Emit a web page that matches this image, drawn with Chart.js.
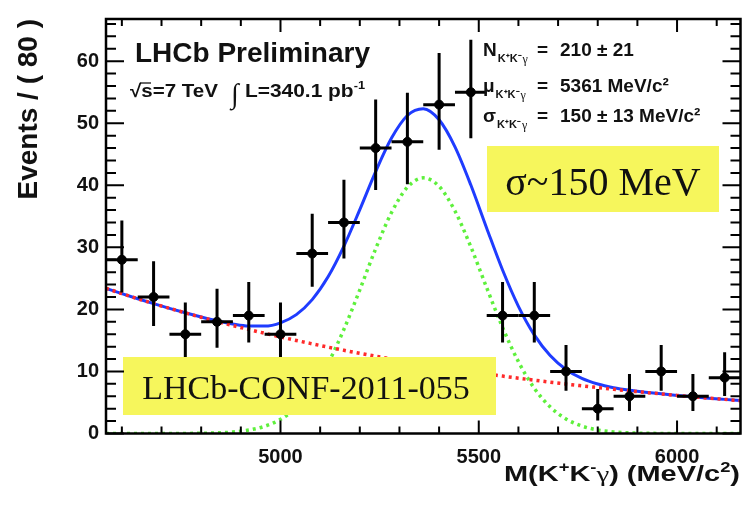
<!DOCTYPE html>
<html>
<head>
<meta charset="utf-8">
<script src="https://cdn.jsdelivr.net/npm/chart.js@4.4.0/dist/chart.umd.min.js"></script>
<style>
  html, body { margin: 0; padding: 0; background: #fff; }
  #wrap { width: 750px; height: 505px; }
</style>
</head>
<body>
<div id="wrap"><canvas id="massChart" width="750" height="505"></canvas></div>
<script>
/* ── Data: 80 MeV bins, counts with asymmetric Poisson errors ── */

const binCentres = [4600, 4680, 4760, 4840, 4920, 5000, 5080, 5160, 5240, 5320,
                    5400, 5480, 5560, 5640, 5720, 5800, 5880, 5960, 6040, 6120];
const counts     = [28, 22, 16, 18, 19, 16, 29, 34, 46, 47,
                    53, 55, 19, 19, 10, 4, 6, 10, 6, 9];
const errLow     = [5.26, 4.66, 3.96, 4.20, 4.32, 3.96, 5.36, 5.80, 6.76, 6.84,
                    7.27, 7.41, 4.32, 4.32, 3.11, 1.91, 2.38, 3.11, 2.38, 2.94];
const errHigh    = [6.34, 5.76, 5.10, 5.32, 5.43, 5.10, 6.43, 6.88, 7.84, 7.91,
                    8.33, 8.47, 5.43, 5.43, 4.26, 3.16, 3.58, 4.26, 3.58, 4.11];
const binHalfWidth = 40;

// fit curves, read every 40 MeV
const curveX   = [4560, 4600, 4640, 4680, 4720, 4760, 4800, 4840, 4880, 4920,
                  4960, 5000, 5040, 5080, 5120, 5160, 5200, 5240, 5280, 5320,
                  5360, 5400, 5440, 5480, 5520, 5560, 5600, 5640, 5680, 5720,
                  5760, 5800, 5840, 5880, 5920, 5960, 6000, 6040, 6080, 6120, 6160];
const totalFit = [23.40, 22.55, 21.72, 20.93, 20.17, 19.45, 18.77, 18.15, 17.63, 17.31,
                  17.31, 17.84, 19.16, 21.58, 25.25, 30.20, 36.08, 42.21, 47.61, 51.25,
                  52.34, 50.56, 46.20, 40.04, 33.09, 26.34, 20.49, 15.89, 12.56, 10.32,
                  8.88, 7.97, 7.38, 6.97, 6.66, 6.39, 6.14, 5.92, 5.70, 5.50, 5.30];
const bkgFit   = [23.40, 22.55, 21.72, 20.93, 20.17, 19.44, 18.73, 18.05, 17.39, 16.76,
                  16.15, 15.56, 14.99, 14.45, 13.92, 13.41, 12.92, 12.45, 12.00, 11.56,
                  11.14, 10.73, 10.34, 9.96, 9.60, 9.25, 8.91, 8.59, 8.27, 7.97,
                  7.68, 7.40, 7.13, 6.87, 6.62, 6.38, 6.14, 5.92, 5.70, 5.50, 5.30];
const sigFit   = [0.00, 0.00, 0.00, 0.00, 0.00, 0.01, 0.04, 0.10, 0.24, 0.55,
                  1.16, 2.28, 4.17, 7.13, 11.33, 16.79, 23.16, 29.76, 35.61, 39.69,
                  41.20, 39.83, 35.86, 30.08, 23.49, 17.09, 11.58, 7.30, 4.29, 2.35,
                  1.20, 0.57, 0.25, 0.10, 0.04, 0.01, 0.00, 0.00, 0.00, 0.00, 0.00];

const xTicks = [5000, 5500, 6000];
const yTicks = [0, 10, 20, 30, 40, 50, 60];

const fitRows = [
    { sym: 'N', val: '210 ± 21',        y: 56  },
    { sym: 'μ', val: '5361 MeV/c²',     y: 92  },
    { sym: 'σ', val: '150 ± 13 MeV/c²', y: 122 },
];

/* ── Drawing helpers ── */

const SANS  = `'Liberation Sans', Arial, Helvetica, sans-serif`;
const SERIF = `'Liberation Serif', 'Times New Roman', serif`;

const toXY = (xs, ys) => xs.map((v, i) => ({ x: v, y: ys[i] }));

// pieces: [text, font, dy]; drawn right-aligned at (right, base), squeezed/stretched to width
function drawRich(ctx, pieces, right, base, width) {
    let total = 0;
    pieces.forEach(p => { ctx.font = p[1]; total += ctx.measureText(p[0]).width; });
    const sx = width / total;
    ctx.save();
    ctx.translate(right - width, base);
    ctx.scale(sx, 1);
    let cx = 0;
    pieces.forEach(p => {
        ctx.font = p[1];
        ctx.fillText(p[0], cx, p[2]);
        cx += ctx.measureText(p[0]).width;
    });
    ctx.restore();
}

const errorBarsPlugin = {
    id: 'errorBars',
    afterDatasetsDraw(chart) {
        const { ctx, scales: { x, y } } = chart;
        ctx.save();
        ctx.strokeStyle = '#000';
        ctx.lineWidth   = 3;
        binCentres.forEach((c, i) => {
            const px = x.getPixelForValue(c);
            const py = y.getPixelForValue(counts[i]);
            ctx.beginPath();
            ctx.moveTo(x.getPixelForValue(c - binHalfWidth), py);
            ctx.lineTo(x.getPixelForValue(c + binHalfWidth), py);
            ctx.moveTo(px, y.getPixelForValue(counts[i] - errLow[i]));
            ctx.lineTo(px, y.getPixelForValue(counts[i] + errHigh[i]));
            ctx.stroke();
        });
        ctx.restore();
    }
};

const decorPlugin = {
    id: 'decor',
    afterDraw(chart) {
        const { ctx, chartArea: a, scales: { x, y } } = chart;
        ctx.save();

        // yellow note boxes
        ctx.fillStyle = '#f6f65c';
        ctx.fillRect(487, 146, 232, 66);
        ctx.fillRect(123, 357, 373, 58);
        ctx.fillStyle    = '#111';
        ctx.textAlign    = 'center';
        ctx.textBaseline = 'alphabetic';
        ctx.font = `40px ${SERIF}`;
        ctx.fillText('σ~150 MeV', 603, 195);
        ctx.font = `34px ${SERIF}`;
        ctx.fillText('LHCb-CONF-2011-055', 306, 399);

        // frame + inner ticks
        ctx.strokeStyle = '#000';
        ctx.lineWidth   = 2;
        ctx.beginPath();
        for (let v = 0; v <= y.max; v += 2) {
            const py  = y.getPixelForValue(v);
            const len = v % 10 === 0 ? 18 : 10;
            ctx.moveTo(a.left, py);  ctx.lineTo(a.left + len, py);
            ctx.moveTo(a.right, py); ctx.lineTo(a.right - len, py);
        }
        for (let v = 4600; v <= x.max; v += 100) {
            const px  = x.getPixelForValue(v);
            const len = v % 500 === 0 ? 13 : 7;
            ctx.moveTo(px, a.bottom); ctx.lineTo(px, a.bottom - len);
            ctx.moveTo(px, a.top);    ctx.lineTo(px, a.top + len);
        }
        ctx.stroke();
        ctx.lineWidth = 2.5;
        ctx.strokeRect(a.left, a.top, a.right - a.left, a.bottom - a.top);

        // labels
        ctx.fillStyle = '#111';
        ctx.textAlign = 'left';
        ctx.font = `bold 28px ${SANS}`;
        ctx.fillText('LHCb Preliminary', 135, 62);

        drawRich(ctx, [
            ['√', `bold 18px ${SANS}`, 0],
            ['s=7 TeV', `bold 18px ${SANS}`, 0],
        ], 218, 97, 88);
        ctx.lineWidth = 1.2;
        ctx.beginPath();
        ctx.moveTo(140, 83);
        ctx.lineTo(151, 83);
        ctx.stroke();
        ctx.font = `28px ${SERIF}`;
        ctx.fillText('∫', 231, 103);
        drawRich(ctx, [
            ['L=340.1 pb', `bold 18px ${SANS}`, 0],
            ['-1', `bold 11px ${SANS}`, -8],
        ], 365, 97, 120);

        fitRows.forEach(r => {
            ctx.font = `bold 19px ${SANS}`;
            ctx.fillText(r.sym, 483, r.y);
            const symW = ctx.measureText(r.sym).width;
            ctx.font = `bold 11px ${SANS}`;
            ctx.fillText('K⁺K⁻', 484 + symW, r.y + 6);
            const kw = ctx.measureText('K⁺K⁻').width;
            ctx.font = `12px ${SERIF}`;
            ctx.fillText('γ', 485 + symW + kw, r.y + 7);
            ctx.font = `bold 19px ${SANS}`;
            ctx.fillText('=', 537, r.y);
            ctx.fillText(r.val, 560, r.y);
        });

        // x-axis title, right aligned to the frame
        const tf = `bold 22px ${SANS}`, sf = `bold 14px ${SANS}`;
        drawRich(ctx, [
            ['M(K', tf, 0], ['+', sf, -9], ['K', tf, 0], ['-', sf, -9],
            ['γ', `22px ${SERIF}`, 0], [') (MeV/c', tf, 0], ['2', sf, -9], [')', tf, 0],
        ], 740, 481, 236);

        ctx.restore();
    }
};

/* ── Chart ── */

new Chart(document.getElementById('massChart').getContext('2d'), {
    type: 'scatter',
    plugins: [errorBarsPlugin, decorPlugin],
    data: {
        datasets: [
            {
                label:           'Data',
                data:            toXY(binCentres, counts),
                pointRadius:     4.5,
                pointBackgroundColor: '#000',
                pointBorderColor:     '#000',
                showLine:        false,
            },
            {
                label:           'Background',
                data:            toXY(curveX, bkgFit),
                showLine:        true,
                pointRadius:     0,
                borderColor:     '#ff2a2a',
                borderWidth:     3.5,
                borderDash:      [3, 4],
                cubicInterpolationMode: 'monotone',
            },
            {
                label:           'Signal',
                data:            toXY(curveX, sigFit),
                showLine:        true,
                pointRadius:     0,
                borderColor:     '#5ef03c',
                borderWidth:     3.5,
                borderDash:      [3, 4],
                cubicInterpolationMode: 'monotone',
            },
            {
                label:           'Total fit',
                data:            toXY(curveX, totalFit),
                showLine:        true,
                pointRadius:     0,
                borderColor:     '#1f3cff',
                borderWidth:     3,
                cubicInterpolationMode: 'monotone',
            },
        ]
    },
    options: {
        responsive: false,
        animation:  false,
        events:     [],
        layout:     { padding: { top: 14.5, right: 9.5, left: 0, bottom: 0 } },
        plugins: {
            legend:  { display: false },
            tooltip: { enabled: false },
        },
        scales: {
            x: {
                type: 'linear',
                min:  4560,
                max:  6160,
                afterBuildTicks: s => { s.ticks = xTicks.map(v => ({ value: v })); },
                afterFit: s => { s.height = 71.5; },
                grid:   { display: false, drawTicks: false },
                border: { display: false },
                ticks: {
                    padding: 12,
                    maxRotation: 0,
                    color: '#111',
                    font: { family: SANS, size: 20, weight: 'bold' },
                    callback: v => String(v),
                },
            },
            y: {
                min: 0,
                max: 66.8,
                afterBuildTicks: s => { s.ticks = yTicks.map(v => ({ value: v })); },
                afterFit: s => { s.width = 106; },
                grid:   { display: false, drawTicks: false },
                border: { display: false },
                ticks: {
                    padding: 7,
                    color: '#111',
                    font: { family: SANS, size: 20, weight: 'bold' },
                },
                title: {
                    display: true,
                    text:    'Events / ( 80 )',
                    align:   'end',
                    color:   '#111',
                    padding: { top: 12, bottom: 0 },
                    font:    { family: SANS, size: 28, weight: 'bold' },
                },
            },
        },
    }
});
</script>
</body>
</html>
